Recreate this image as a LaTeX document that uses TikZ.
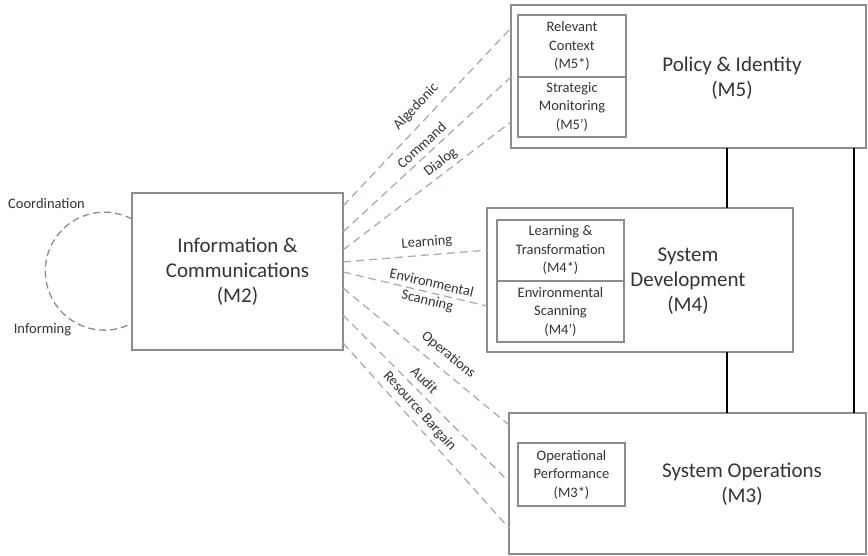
\documentclass[tikz,border=0pt]{standalone}
\usepackage{fontspec}
\setmainfont{Carlito}
\usetikzlibrary{calc}
\definecolor{boxgray}{HTML}{8C8C8C}
\definecolor{dashblue}{HTML}{9DB1BA}
\definecolor{txt}{HTML}{333333}
\begin{document}
\begin{tikzpicture}[x=1pt,y=-1pt,
  box/.style={draw=boxgray, line width=1.4pt, inner sep=0pt, outer sep=0pt, text=txt},
  titletext/.style={font=\fontsize{21}{25}\selectfont, text=txt, align=center},
  smalltext/.style={font=\fontsize{14.5}{18.5}\selectfont, text=txt, align=center},
  conn/.style={draw=dashblue, line width=1.3pt, dash pattern=on 8pt off 5pt},
  clabelbase/.style={font=\fontsize{14.5}{18}\selectfont, text=txt, sloped, inner sep=0pt},
  clabel/.style={clabelbase, text height=10pt, text depth=3pt},
  spine/.style={line width=2.6pt, black}]
\useasboundingbox (0,0) rectangle (868,555);

% M2
\node[box, titletext, minimum width=211pt, minimum height=157pt] (M2) at (237.5,271.5) {Information \&\\Communications\\(M2)};

% M5
\node[box, minimum width=355pt, minimum height=143pt] (M5) at (688.5,76.5) {};
\node[box, smalltext, minimum width=108pt, minimum height=62pt] (M5a) at (572,46) {Relevant\\Context\\(M5*)};
\node[box, smalltext, minimum width=108pt, minimum height=60pt] (M5b) at (572,107) {Strategic\\Monitoring\\(M5’)};
\node[titletext] (M5t) at (732,78) {Policy \& Identity\\(M5)};

% M4
\node[box, minimum width=306pt, minimum height=144pt] (M4) at (640,280) {};
\node[box, smalltext, minimum width=127pt, minimum height=61pt] (M4a) at (560.5,250.5) {Learning \&\\Transformation\\(M4*)};
\node[box, smalltext, minimum width=127pt, minimum height=61pt] (M4b) at (560.5,311.5) {Environmental\\Scanning\\(M4’)};
\node[titletext] (M4t) at (688,281) {System\\Development\\(M4)};

% M3
\node[box, minimum width=357pt, minimum height=141pt] (M3) at (687.5,483.5) {};
\node[box, smalltext, minimum width=107pt, minimum height=63pt] (M3a) at (571.5,474.5) {Operational\\Performance\\(M3*)};
\node[titletext] (M3t) at (742,484) {System Operations\\(M3)};

% spines
\coordinate (s1) at (727,0);
\coordinate (s2) at (854,0);
\draw[spine] (s1 |- M5.south) -- (s1 |- M4.north);
\draw[spine] (s1 |- M4.south) -- (s1 |- M3.north);
\draw[spine] (s2 |- M5.south) -- (s2 |- M3.north);

% connectors to M5
\draw[conn] ($(M2.north east)!0.083!(M2.south east)$) -- node[clabel, pos=0.5, above=7.5pt] (lA) {Algedonic} ($(M5.north west)!0.161!(M5.south west)$);
\draw[conn] ($(M2.north east)!0.248!(M2.south east)$) -- node[clabel, pos=0.51, above=2pt] (lC) {Command} ($(M5.north west)!0.503!(M5.south west)$);
\draw[conn] ($(M2.north east)!0.363!(M2.south east)$) -- node[clabel, pos=0.62, above=3pt] (lD) {Dialog} ($(M5.north west)!0.818!(M5.south west)$);

% connectors to M4
\draw[conn] ($(M2.north east)!0.439!(M2.south east)$) -- node[clabel, pos=0.59, above=5pt] (lL) {Learning} ($(M4.north west)!0.292!(M4.south west)$);
\draw[conn] ($(M2.north east)!0.503!(M2.south east)$) -- node[clabelbase, pos=0.6, align=center] (lE) {Environmental\\Scanning} ($(M4.north west)!0.681!(M4.south west)$);

% connectors to M3
\draw[conn] ($(M2.north east)!0.605!(M2.south east)$) -- node[clabel, pos=0.575, above=8pt] (lO) {Operations} ($(M3.north west)!0.085!(M3.south west)$);
\draw[conn] ($(M2.north east)!0.777!(M2.south east)$) -- node[clabel, pos=0.44, above=3.5pt] (lAu) {Audit} ($(M3.north west)!0.489!(M3.south west)$);
\draw[conn] ($(M2.north east)!0.955!(M2.south east)$) -- node[clabel, pos=0.41, above=4pt] (lR) {Resource Bargain} ($(M3.north west)!0.816!(M3.south west)$);

% coordination loop
\draw[draw=boxgray, line width=1.3pt, dash pattern=on 7pt off 4pt] ($(M2.north west)!0.166!(M2.south west)$) coordinate (loopA) arc[start angle=-62, end angle=-298, radius=59] coordinate (loopB);
\node[smalltext] (co) at (46.5,204) {Coordination};
\node[smalltext] (inf) at (42.5,330) {Informing};
\end{tikzpicture}
\end{document}
